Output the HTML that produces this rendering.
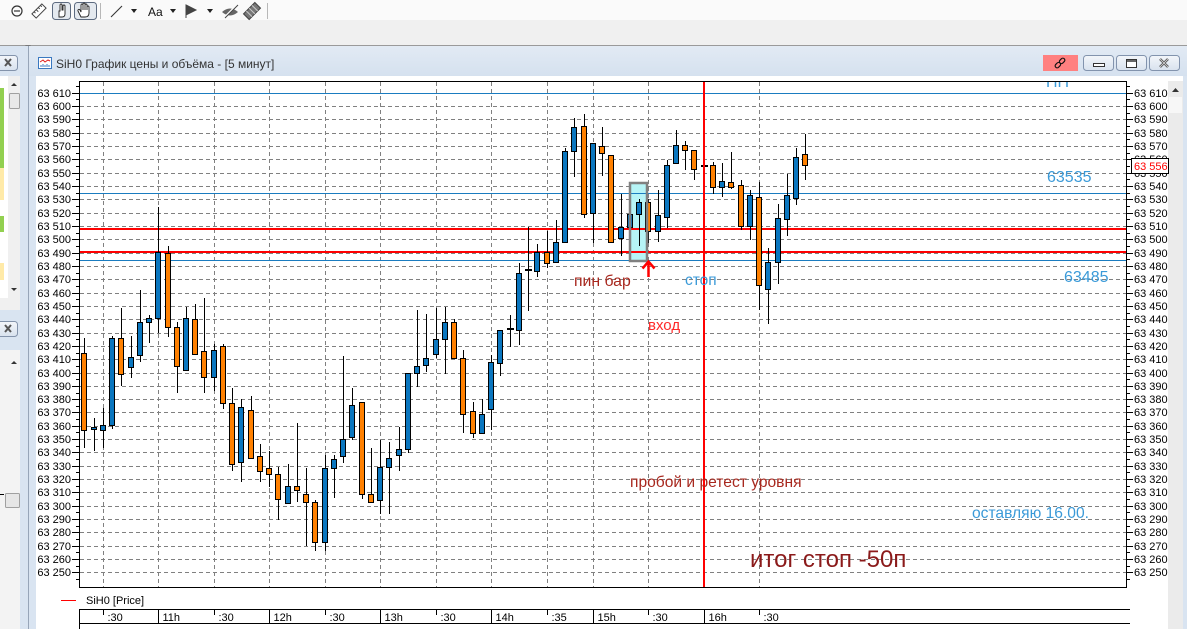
<!DOCTYPE html>
<html><head><meta charset="utf-8"><style>
html,body{margin:0;padding:0;width:1187px;height:629px;overflow:hidden;background:#f0f0f0}
svg{display:block}
.b{fill:#0a76bf;stroke:#000;stroke-width:1}
.o{fill:#ff8000;stroke:#000;stroke-width:1}
</style></head><body>
<svg xmlns="http://www.w3.org/2000/svg" width="1187" height="629" viewBox="0 0 1187 629" font-family="'Liberation Sans','DejaVu Sans',sans-serif">
<defs>
<linearGradient id="tg" x1="0" y1="0" x2="0" y2="1"><stop offset="0" stop-color="#e2eaf4"/><stop offset="1" stop-color="#d5e1ef"/></linearGradient>
<linearGradient id="bt" x1="0" y1="0" x2="0" y2="1"><stop offset="0" stop-color="#f3f6fa"/><stop offset="1" stop-color="#d8e2ee"/></linearGradient>
<clipPath id="pc"><rect x="80" y="82" width="1046" height="505"/></clipPath>
</defs>
<!-- toolbar -->
<rect x="0" y="0" width="1187" height="20" fill="#fafafa"/>
<rect x="0" y="20" width="1187" height="25" fill="#f0f0f0"/>
<line x1="0" y1="45.5" x2="1187" y2="45.5" stroke="#9a9a9a"/>
<path d="M25 45 L28 49 L31 45Z" fill="#777"/>
<circle cx="17" cy="11" r="5" fill="none" stroke="#333" stroke-width="1.2"/>
<line x1="14" y1="11" x2="20" y2="11" stroke="#333" stroke-width="1.2"/>
<g transform="translate(39,11) rotate(-45)"><rect x="-7" y="-3" width="14" height="6" fill="#fff" stroke="#444"/><path d="M-4 -3v2M-1 -3v3M2 -3v2M5 -3v2" stroke="#444"/></g>
<rect x="52.5" y="2.5" width="18" height="17" rx="3" fill="#e4e9ef" stroke="#5d6b80"/>
<rect x="74.5" y="2.5" width="22" height="17" rx="3" fill="#e4e9ef" stroke="#5d6b80"/>
<path d="M59 17 v-6 h1 v-6 a1 1 0 0 1 2 0 v5 h1 v-4 a1 1 0 0 1 2 0 v4 v4 q0 3 -3 3z" fill="#fff" stroke="#222" stroke-width="0.9"/>
<path d="M81 17 l-3 -6 a1 1 0 0 1 2 -1 l1 2 v-7 a1 1 0 0 1 2 0 v5 v-6 a1 1 0 0 1 2 0 v6 v-5 a1 1 0 0 1 2 0 v5 v-3 a1 1 0 0 1 2 0 v6 q0 4 -4 4z" fill="#fff" stroke="#222" stroke-width="0.9"/>
<line x1="100.5" y1="3" x2="100.5" y2="19" stroke="#b8b8b8"/>
<line x1="111" y1="17" x2="122" y2="6" stroke="#333" stroke-width="1.1"/>
<path d="M131 9h6l-3 4z" fill="#222"/>
<text x="148" y="16" font-size="12" fill="#111">Aa</text>
<path d="M170 9h6l-3 4z" fill="#222"/>
<path d="M186 5 v13 M186 5 l10 5 l-10 5z" fill="#444" stroke="#444"/>
<path d="M207 9h6l-3 4z" fill="#222"/>
<path d="M222 12 q8 -7 16 0 q-8 7 -16 0z" fill="#666"/><line x1="224" y1="18" x2="237" y2="5" stroke="#fafafa" stroke-width="2"/><line x1="225" y1="18" x2="238" y2="5" stroke="#444" stroke-width="1"/>
<g transform="translate(252,11) rotate(-45)"><rect x="-8" y="-4" width="16" height="8" fill="#777" stroke="#444"/><path d="M-4 -4v8M0 -4v8M4 -4v8" stroke="#ccc"/></g>
<line x1="267.5" y1="3" x2="267.5" y2="19" stroke="#b8b8b8"/>

<!-- left panel -->
<rect x="0" y="46" width="28" height="583" fill="#d9e4f1"/>
<rect x="-3.5" y="55.5" width="21" height="15" rx="3" fill="url(#bt)" stroke="#8393ab"/>
<path d="M5 59 l6 7 M11 59 l-6 7" stroke="#555" stroke-width="2"/>
<rect x="0" y="76" width="20" height="222" fill="#fff"/>
<rect x="0" y="88" width="4" height="80" fill="#92d050"/>
<rect x="0" y="168" width="4" height="32" fill="#ffeaa8"/>
<rect x="0" y="216" width="4" height="16" fill="#92d050"/>
<rect x="0" y="263" width="4" height="17" fill="#ffeaa8"/>
<rect x="8" y="76" width="12" height="222" fill="#f0f0f0"/>
<path d="M11 86h6l-3 -3z" fill="#333"/>
<rect x="9.5" y="93.5" width="10" height="15" rx="1" fill="#e9e9e9" stroke="#a0a0a0"/>
<path d="M11 288h6l-3 3z" fill="#333"/>
<rect x="0" y="298" width="20" height="12" fill="#f0f0f0"/>
<rect x="-3.5" y="321.5" width="21" height="15" rx="3" fill="url(#bt)" stroke="#8393ab"/>
<path d="M5 325 l6 7 M11 325 l-6 7" stroke="#555" stroke-width="2"/>
<rect x="0" y="350" width="20" height="279" fill="#f3f3f3"/>
<path d="M11 364h6l-3 -3z" fill="#333"/>
<rect x="5.5" y="493.5" width="14" height="14" rx="1" fill="#e6e6e6" stroke="#a0a0a0"/>
<line x1="0" y1="494.5" x2="4" y2="494.5" stroke="#000"/>

<!-- chart window frame -->
<rect x="28" y="46" width="1159" height="583" fill="#d9e4f1"/>
<line x1="28.5" y1="46" x2="28.5" y2="629" stroke="#97a5b8"/>
<rect x="29" y="46" width="1158" height="30" fill="url(#tg)"/>
<rect x="36" y="76" width="1147" height="553" fill="#fff"/>
<!-- title -->
<rect x="38.5" y="57.5" width="13" height="11" fill="#fff" stroke="#3a78c0"/>
<path d="M40 62 l3 -2 l2 2 l3 -2 l2 1" fill="none" stroke="#e02020"/>
<path d="M41 67v-2M43 67v-3M45 67v-2M47 67v-3M49 67v-2" stroke="#3a78c0"/>
<text x="56" y="68" font-size="12" fill="#333">SiH0 График цены и объёма - [5 минут]</text>
<rect x="1043" y="55" width="35" height="16" fill="#ff8080"/>
<g transform="translate(1060,63) rotate(-45)" fill="none" stroke="#111" stroke-width="1.2"><rect x="-6" y="-2" width="6" height="4" rx="2"/><rect x="0" y="-2" width="6" height="4" rx="2"/></g>
<rect x="1083.5" y="55.5" width="30" height="15" rx="3" fill="url(#bt)" stroke="#8293ad"/>
<rect x="1093.5" y="63.5" width="11" height="3" fill="#fff" stroke="#333"/>
<rect x="1116.5" y="55.5" width="30" height="15" rx="3" fill="url(#bt)" stroke="#8293ad"/>
<rect x="1126.5" y="59.5" width="10" height="8" fill="#fff" stroke="#333"/><line x1="1127" y1="61" x2="1136" y2="61" stroke="#333" stroke-width="1.5"/>
<rect x="1149.5" y="55.5" width="30" height="15" rx="3" fill="url(#bt)" stroke="#8293ad"/>
<path d="M1160 59 l8 8 M1168 59 l-8 8" stroke="#555" stroke-width="2.5"/>
<path d="M1160 59 l8 8 M1168 59 l-8 8" stroke="#ddd" stroke-width="0.8"/>

<!-- scrollbar right -->
<rect x="1168" y="81" width="15" height="548" fill="#ebebeb"/>
<path d="M1172 92h7l-3.5 -4z" fill="#333"/>
<rect x="1169" y="97" width="13" height="16" fill="#f7f7f7"/>

<!-- grid -->
<path d="M80 106.5H1126M80 119.5H1126M80 133.5H1126M80 146.5H1126M80 159.5H1126M80 173.5H1126M80 186.5H1126M80 199.5H1126M80 213.5H1126M80 226.5H1126M80 239.5H1126M80 253.5H1126M80 266.5H1126M80 279.5H1126M80 293.5H1126M80 306.5H1126M80 319.5H1126M80 333.5H1126M80 346.5H1126M80 359.5H1126M80 373.5H1126M80 386.5H1126M80 399.5H1126M80 412.5H1126M80 426.5H1126M80 439.5H1126M80 452.5H1126M80 466.5H1126M80 479.5H1126M80 492.5H1126M80 506.5H1126M80 519.5H1126M80 532.5H1126M80 546.5H1126M80 559.5H1126M80 572.5H1126" stroke="#808080" stroke-width="1" stroke-dasharray="4 3" fill="none"/>
<path d="M103.5 82V587M158.5 82V587M214.5 82V587M269.5 82V587M325.5 82V587M380.5 82V587M436.5 82V587M491.5 82V587M547.5 82V587M593.5 82V587M648.5 82V587M759.5 82V587" stroke="#808080" stroke-width="1" stroke-dasharray="4 3" fill="none"/>

<!-- plot border -->
<rect x="79.5" y="81.5" width="1047" height="506" fill="none" stroke="#000"/>

<!-- axis ticks -->
<path d="M72 93.5H79M72 106.5H79M72 119.5H79M72 133.5H79M72 146.5H79M72 159.5H79M72 173.5H79M72 186.5H79M72 199.5H79M72 213.5H79M72 226.5H79M72 239.5H79M72 253.5H79M72 266.5H79M72 279.5H79M72 293.5H79M72 306.5H79M72 319.5H79M72 333.5H79M72 346.5H79M72 359.5H79M72 373.5H79M72 386.5H79M72 399.5H79M72 412.5H79M72 426.5H79M72 439.5H79M72 452.5H79M72 466.5H79M72 479.5H79M72 492.5H79M72 506.5H79M72 519.5H79M72 532.5H79M72 546.5H79M72 559.5H79M72 572.5H79M76 86.5H79M76 99.5H79M76 113.5H79M76 126.5H79M76 139.5H79M76 153.5H79M76 166.5H79M76 179.5H79M76 193.5H79M76 206.5H79M76 219.5H79M76 233.5H79M76 246.5H79M76 259.5H79M76 273.5H79M76 286.5H79M76 299.5H79M76 313.5H79M76 326.5H79M76 339.5H79M76 353.5H79M76 366.5H79M76 379.5H79M76 393.5H79M76 406.5H79M76 419.5H79M76 432.5H79M76 446.5H79M76 459.5H79M76 472.5H79M76 486.5H79M76 499.5H79M76 512.5H79M76 526.5H79M76 539.5H79M76 552.5H79M76 566.5H79M76 579.5H79" stroke="#000" fill="none"/>
<path d="M1127 93.5H1133M1127 106.5H1133M1127 119.5H1133M1127 133.5H1133M1127 146.5H1133M1127 159.5H1133M1127 173.5H1133M1127 186.5H1133M1127 199.5H1133M1127 213.5H1133M1127 226.5H1133M1127 239.5H1133M1127 253.5H1133M1127 266.5H1133M1127 279.5H1133M1127 293.5H1133M1127 306.5H1133M1127 319.5H1133M1127 333.5H1133M1127 346.5H1133M1127 359.5H1133M1127 373.5H1133M1127 386.5H1133M1127 399.5H1133M1127 412.5H1133M1127 426.5H1133M1127 439.5H1133M1127 452.5H1133M1127 466.5H1133M1127 479.5H1133M1127 492.5H1133M1127 506.5H1133M1127 519.5H1133M1127 532.5H1133M1127 546.5H1133M1127 559.5H1133M1127 572.5H1133M1127 86.5H1130M1127 99.5H1130M1127 113.5H1130M1127 126.5H1130M1127 139.5H1130M1127 153.5H1130M1127 166.5H1130M1127 179.5H1130M1127 193.5H1130M1127 206.5H1130M1127 219.5H1130M1127 233.5H1130M1127 246.5H1130M1127 259.5H1130M1127 273.5H1130M1127 286.5H1130M1127 299.5H1130M1127 313.5H1130M1127 326.5H1130M1127 339.5H1130M1127 353.5H1130M1127 366.5H1130M1127 379.5H1130M1127 393.5H1130M1127 406.5H1130M1127 419.5H1130M1127 432.5H1130M1127 446.5H1130M1127 459.5H1130M1127 472.5H1130M1127 486.5H1130M1127 499.5H1130M1127 512.5H1130M1127 526.5H1130M1127 539.5H1130M1127 552.5H1130M1127 566.5H1130M1127 579.5H1130" stroke="#000" fill="none"/>

<!-- axis labels -->
<g font-size="11" fill="#000">
<text text-anchor="end"><tspan x="71" y="97">63 610</tspan><tspan x="71" y="110">63 600</tspan><tspan x="71" y="123">63 590</tspan><tspan x="71" y="137">63 580</tspan><tspan x="71" y="150">63 570</tspan><tspan x="71" y="163">63 560</tspan><tspan x="71" y="177">63 550</tspan><tspan x="71" y="190">63 540</tspan><tspan x="71" y="203">63 530</tspan><tspan x="71" y="217">63 520</tspan><tspan x="71" y="230">63 510</tspan><tspan x="71" y="243">63 500</tspan><tspan x="71" y="257">63 490</tspan><tspan x="71" y="270">63 480</tspan><tspan x="71" y="283">63 470</tspan><tspan x="71" y="297">63 460</tspan><tspan x="71" y="310">63 450</tspan><tspan x="71" y="323">63 440</tspan><tspan x="71" y="337">63 430</tspan><tspan x="71" y="350">63 420</tspan><tspan x="71" y="363">63 410</tspan><tspan x="71" y="377">63 400</tspan><tspan x="71" y="390">63 390</tspan><tspan x="71" y="403">63 380</tspan><tspan x="71" y="416">63 370</tspan><tspan x="71" y="430">63 360</tspan><tspan x="71" y="443">63 350</tspan><tspan x="71" y="456">63 340</tspan><tspan x="71" y="470">63 330</tspan><tspan x="71" y="483">63 320</tspan><tspan x="71" y="496">63 310</tspan><tspan x="71" y="510">63 300</tspan><tspan x="71" y="523">63 290</tspan><tspan x="71" y="536">63 280</tspan><tspan x="71" y="550">63 270</tspan><tspan x="71" y="563">63 260</tspan><tspan x="71" y="576">63 250</tspan></text>
<text><tspan x="1134" y="97">63 610</tspan><tspan x="1134" y="110">63 600</tspan><tspan x="1134" y="123">63 590</tspan><tspan x="1134" y="137">63 580</tspan><tspan x="1134" y="150">63 570</tspan><tspan x="1134" y="163">63 560</tspan><tspan x="1134" y="177">63 550</tspan><tspan x="1134" y="190">63 540</tspan><tspan x="1134" y="203">63 530</tspan><tspan x="1134" y="217">63 520</tspan><tspan x="1134" y="230">63 510</tspan><tspan x="1134" y="243">63 500</tspan><tspan x="1134" y="257">63 490</tspan><tspan x="1134" y="270">63 480</tspan><tspan x="1134" y="283">63 470</tspan><tspan x="1134" y="297">63 460</tspan><tspan x="1134" y="310">63 450</tspan><tspan x="1134" y="323">63 440</tspan><tspan x="1134" y="337">63 430</tspan><tspan x="1134" y="350">63 420</tspan><tspan x="1134" y="363">63 410</tspan><tspan x="1134" y="377">63 400</tspan><tspan x="1134" y="390">63 390</tspan><tspan x="1134" y="403">63 380</tspan><tspan x="1134" y="416">63 370</tspan><tspan x="1134" y="430">63 360</tspan><tspan x="1134" y="443">63 350</tspan><tspan x="1134" y="456">63 340</tspan><tspan x="1134" y="470">63 330</tspan><tspan x="1134" y="483">63 320</tspan><tspan x="1134" y="496">63 310</tspan><tspan x="1134" y="510">63 300</tspan><tspan x="1134" y="523">63 290</tspan><tspan x="1134" y="536">63 280</tspan><tspan x="1134" y="550">63 270</tspan><tspan x="1134" y="563">63 260</tspan><tspan x="1134" y="576">63 250</tspan></text>
</g>
<rect x="1131.5" y="158.5" width="37" height="15" fill="#fff" stroke="#000"/>
<text x="1134" y="170" font-size="11" fill="#ff0000">63 556</text>

<!-- highlight rect fill -->
<rect x="630" y="183" width="17" height="78" fill="#b6f4f6"/>

<!-- level lines -->
<g clip-path="url(#pc)">
<text x="1046" y="87" font-size="16" fill="#3b9ad8">ПП</text>
</g>
<line x1="80" y1="93.5" x2="1126" y2="93.5" stroke="#1a7cc0"/>
<line x1="80" y1="193.5" x2="1126" y2="193.5" stroke="#1a7cc0"/>
<line x1="80" y1="260.5" x2="1126" y2="260.5" stroke="#1a7cc0"/>
<rect x="80" y="228" width="1046" height="2" fill="#ff0000"/>
<rect x="80" y="251" width="1046" height="2" fill="#ff0000"/>

<!-- candles -->
<g stroke="#000" stroke-width="1">
<path d="M84.5 338V448M94.5 418V451M103.5 408V448M112.5 336V429M121.5 308V386M131.5 336V378M140.5 290V362M149.5 315V343M158.5 207V333M168.5 246V337M177.5 322V393M186.5 307V370M195.5 304V354M204.5 298V393M214.5 344V391M223.5 344V409M232.5 388V471M241.5 399V482M251.5 396V459M260.5 444V482M269.5 451V487M278.5 467V520M288.5 464V503M297.5 423V502M306.5 468V546M315.5 500V551M325.5 455V551M334.5 455V498M343.5 356V463M352.5 388V440M362.5 402V499M371.5 448V503M380.5 440V514M389.5 442V514M399.5 427V471M408.5 373V453M417.5 310V387M426.5 314V372M436.5 308V358M445.5 307V374M454.5 319V358M463.5 350V433M473.5 402V438M482.5 399V433M491.5 355V430M500.5 330V376M510.5 315V347M519.5 263V345M528.5 227V311M537.5 244V277M547.5 231V268M556.5 220V262M565.5 148V242M574.5 118V177M584.5 114V218M593.5 143V243M602.5 127V176M611.5 155V242M621.5 194V256M630.5 207V245M639.5 199V246M648.5 199V243M658.5 190V242M667.5 160V228M676.5 130V163M685.5 141V170M694.5 150V180M713.5 162V194M722.5 163V197M731.5 152V189M741.5 180V230M750.5 190V240M759.5 182V310M768.5 248V324M778.5 204V284M787.5 174V236M796.5 148V205M805.5 134V180" fill="none"/>
</g>
<g>
<rect class="o" x="81.5" y="353.5" width="5" height="77"/>
<rect class="b" x="91.5" y="427.5" width="5" height="2"/>
<rect class="b" x="100.5" y="425.5" width="5" height="5"/>
<rect class="b" x="109.5" y="338.5" width="5" height="87"/>
<rect class="o" x="118.5" y="338.5" width="5" height="36"/>
<rect class="b" x="128.5" y="357.5" width="5" height="10"/>
<rect class="b" x="137.5" y="322.5" width="5" height="33"/>
<rect class="b" x="146.5" y="318.5" width="5" height="4"/>
<rect class="b" x="155.5" y="252.5" width="5" height="66"/>
<rect class="o" x="165.5" y="253.5" width="5" height="74"/>
<rect class="o" x="174.5" y="327.5" width="5" height="39"/>
<rect class="b" x="183.5" y="318.5" width="5" height="52"/>
<rect class="o" x="192.5" y="319.5" width="5" height="35"/>
<rect class="o" x="201.5" y="351.5" width="5" height="26"/>
<rect class="b" x="211.5" y="350.5" width="5" height="27"/>
<rect class="o" x="220.5" y="346.5" width="5" height="57"/>
<rect class="o" x="229.5" y="403.5" width="5" height="61"/>
<rect class="b" x="238.5" y="407.5" width="5" height="55"/>
<rect class="o" x="248.5" y="410.5" width="5" height="48"/>
<rect class="o" x="257.5" y="456.5" width="5" height="15"/>
<rect class="o" x="266.5" y="468.5" width="5" height="6"/>
<rect class="o" x="275.5" y="474.5" width="5" height="25"/>
<rect class="b" x="285.5" y="486.5" width="5" height="17"/>
<rect class="o" x="294.5" y="486.5" width="5" height="4"/>
<rect class="o" x="303.5" y="494.5" width="5" height="8"/>
<rect class="o" x="312.5" y="502.5" width="5" height="40"/>
<rect class="b" x="322.5" y="468.5" width="5" height="74"/>
<rect class="b" x="331.5" y="459.5" width="5" height="9"/>
<rect class="b" x="340.5" y="439.5" width="5" height="17"/>
<rect class="b" x="349.5" y="405.5" width="5" height="32"/>
<rect class="o" x="359.5" y="402.5" width="5" height="92"/>
<rect class="o" x="368.5" y="494.5" width="5" height="8"/>
<rect class="b" x="377.5" y="467.5" width="5" height="33"/>
<rect class="b" x="386.5" y="458.5" width="5" height="9"/>
<rect class="b" x="396.5" y="449.5" width="5" height="6"/>
<rect class="b" x="405.5" y="373.5" width="5" height="76"/>
<rect class="b" x="414.5" y="366.5" width="5" height="7"/>
<rect class="b" x="423.5" y="358.5" width="5" height="7"/>
<rect class="b" x="433.5" y="339.5" width="5" height="15"/>
<rect class="b" x="442.5" y="322.5" width="5" height="17"/>
<rect class="o" x="451.5" y="322.5" width="5" height="36"/>
<rect class="o" x="460.5" y="358.5" width="5" height="56"/>
<rect class="o" x="470.5" y="411.5" width="5" height="22"/>
<rect class="b" x="479.5" y="414.5" width="5" height="19"/>
<rect class="b" x="488.5" y="362.5" width="5" height="47"/>
<rect class="b" x="497.5" y="330.5" width="5" height="33"/>
<rect x="507" y="328" width="7" height="2" fill="#000"/>
<rect class="b" x="516.5" y="273.5" width="5" height="57"/>
<rect x="525" y="269" width="7" height="2" fill="#000"/>
<rect class="b" x="534.5" y="252.5" width="5" height="19"/>
<rect class="o" x="544.5" y="252.5" width="5" height="11"/>
<rect class="b" x="553.5" y="242.5" width="5" height="20"/>
<rect class="b" x="562.5" y="151.5" width="5" height="91"/>
<rect class="b" x="571.5" y="127.5" width="5" height="24"/>
<rect class="o" x="581.5" y="126.5" width="5" height="88"/>
<rect class="b" x="590.5" y="143.5" width="5" height="70"/>
<rect class="o" x="599.5" y="146.5" width="5" height="7"/>
<rect class="o" x="608.5" y="155.5" width="5" height="87"/>
<rect class="b" x="618.5" y="227.5" width="5" height="11"/>
<rect class="b" x="627.5" y="214.5" width="5" height="13"/>
<rect class="b" x="636.5" y="202.5" width="5" height="12"/>
<rect class="o" x="645.5" y="202.5" width="5" height="29"/>
<rect class="b" x="655.5" y="215.5" width="5" height="16"/>
<rect class="b" x="664.5" y="165.5" width="5" height="52"/>
<rect class="b" x="673.5" y="145.5" width="5" height="18"/>
<rect class="o" x="682.5" y="145.5" width="5" height="5"/>
<rect class="o" x="691.5" y="150.5" width="5" height="19"/>
<rect x="701" y="165" width="7" height="2" fill="#000"/>
<rect class="o" x="710.5" y="165.5" width="5" height="22"/>
<rect class="b" x="719.5" y="181.5" width="5" height="6"/>
<rect class="o" x="728.5" y="182.5" width="5" height="5"/>
<rect class="o" x="738.5" y="185.5" width="5" height="41"/>
<rect class="b" x="747.5" y="195.5" width="5" height="31"/>
<rect class="o" x="756.5" y="197.5" width="5" height="88"/>
<rect class="b" x="765.5" y="262.5" width="5" height="27"/>
<rect class="b" x="775.5" y="218.5" width="5" height="44"/>
<rect class="b" x="784.5" y="195.5" width="5" height="24"/>
<rect class="b" x="793.5" y="157.5" width="5" height="41"/>
<rect class="o" x="802.5" y="154.5" width="5" height="11"/>
</g>

<!-- highlight border -->
<rect x="630" y="183" width="17" height="78" fill="none" stroke="#808080" stroke-width="2.5"/>
<!-- red vertical -->
<rect x="703" y="82" width="2" height="505" fill="#ff0000"/>
<!-- arrow -->
<path d="M648.5 262V277M642.5 268.5L648.5 261.5L654.5 268.5" stroke="#ff0000" stroke-width="2.5" fill="none"/>

<!-- annotations -->
<text x="574" y="286" font-size="15.8" fill="#a8281e">пин бар</text>
<text x="685" y="285" font-size="15.5" fill="#3b9ad8">стоп</text>
<text x="648" y="330" font-size="15" fill="#ff2a2a">вход</text>
<text x="630" y="487" font-size="15.6" fill="#a8281e">пробой и ретест уровня</text>
<text x="972" y="518" font-size="15.6" fill="#3b9ad8">оставляю 16.00.</text>
<text x="750" y="567" font-size="24" fill="#8b1a1a">итог стоп -50п</text>
<text x="1047" y="182" font-size="16" fill="#3b9ad8">63535</text>
<text x="1064" y="282" font-size="16" fill="#3b9ad8">63485</text>

<!-- legend -->
<line x1="61" y1="600.5" x2="76" y2="600.5" stroke="#ff0000"/>
<text x="86" y="604" font-size="11" fill="#000">SiH0 [Price]</text>

<!-- time axis -->
<path d="M79 609.5H1130M79 623.5H1130M79.5 609V629M158.5 609V624M269.5 609V624M380.5 609V624M491.5 609V624M593.5 609V624M704.5 609V624M103.5 609V615M214.5 609V615M325.5 609V615M436.5 609V615M547.5 609V615M648.5 609V615M759.5 609V615" stroke="#000" fill="none"/>
<g font-size="11" fill="#000">
<text x="107.5" y="621">:30</text>
<text x="162.5" y="621">11h</text>
<text x="218.5" y="621">:30</text>
<text x="273.5" y="621">12h</text>
<text x="329.5" y="621">:30</text>
<text x="384.5" y="621">13h</text>
<text x="440.5" y="621">:30</text>
<text x="495.5" y="621">14h</text>
<text x="551.5" y="621">:35</text>
<text x="597.5" y="621">15h</text>
<text x="652.5" y="621">:30</text>
<text x="708.5" y="621">16h</text>
<text x="763.5" y="621">:30</text>
</g>
</svg>
</body></html>
